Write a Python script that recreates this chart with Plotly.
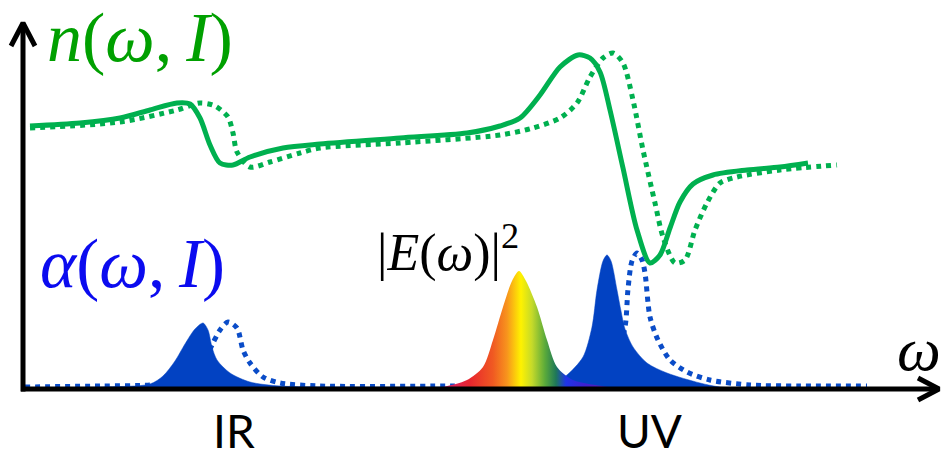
import plotly.graph_objects as go

# ---- refractive index n(omega, I): solid (low intensity) and dotted (high intensity)
n_solid_omega = [30, 80, 120, 150, 177, 190, 200, 210, 220, 233, 250, 283, 320, 400, 467, 500, 520,
                 540, 560, 578, 590, 600, 610, 623, 637, 650, 660, 670, 680, 693, 713, 747, 780, 808]
n_solid_value = [263, 266, 271, 279, 286, 285, 271, 244, 226, 224, 232, 241, 245, 251, 256, 263, 271,
                 294, 322, 334, 331, 317, 279, 221, 159, 126, 134, 161, 187, 205, 214, 219, 222, 226]

n_dot_omega = [30, 120, 177, 200, 215, 228, 233, 237, 250, 270, 300, 320, 400, 500, 533, 560, 577,
               590, 603, 613, 623, 633, 643, 655, 663, 675, 685, 695, 707, 720, 737, 780, 837]
n_dot_value = [261, 267, 279, 286, 283, 272, 256, 237, 222, 227, 236, 241, 246, 254, 261, 271, 286,
               312, 331, 336, 326, 289, 239, 186, 152, 126, 129, 159, 186, 206, 212, 219, 224]

# ---- absorption alpha(omega, I): filled (low intensity) and dotted (high intensity)
a_fill_omega = [25, 100, 150, 163, 175, 185, 195, 203, 208, 212, 217, 230, 250, 280, 350, 450, 520,
                560, 567, 583, 592, 597, 603, 607, 611, 617, 621, 625, 633, 647, 667, 700, 720, 760]
a_fill_value = [1, 2, 5, 13, 28, 45, 60, 66, 59, 42, 29, 16, 7, 3, 2, 2, 3,
                10, 14, 32, 62, 99, 128, 134, 128, 99, 78, 60, 42, 26, 16, 6, 2, 0]

a_dot_omega = [25, 100, 150, 180, 195, 205, 213, 220, 228, 237, 243, 250, 263, 280, 320, 450, 560,
               600, 615, 625, 628, 632, 637, 642, 645, 650, 658, 670, 687, 710, 750, 800, 867]
a_dot_value = [2, 3, 4, 8, 16, 30, 46, 59, 67, 61, 39, 26, 12, 6, 3, 3, 4,
               12, 30, 62, 100, 128, 136, 129, 116, 72, 49, 29, 17, 9, 4, 3, 3]

# ---- pulse spectrum |E(omega)|^2
e_omega = [430, 443, 467, 483, 493, 503, 512, 519, 526, 537, 547, 557, 573, 607, 620]
e_value = [0, 2, 9, 22, 49, 82, 108, 118, 108, 82, 49, 22, 9, 2, 0]

rainbow = [[0.000, "#D8207A"], [0.176, "#E8262E"], [0.312, "#F05A22"], [0.394, "#F7941D"],
           [0.476, "#FFF200"], [0.541, "#C5DA2A"], [0.618, "#5AAA3A"], [0.682, "#1E7858"],
           [0.741, "#1F35E8"], [0.853, "#3D20D0"], [1.000, "#6A1AA8"]]

# ---- axis arrows
yaxis_x = [23, 23]
yaxis_y = [-2.5, 366]
yhead_x = [11, 23, 35]
yhead_y = [343, 366, 343]
xaxis_x = [21, 939]
xaxis_y = [0, 0]
xhead_x = [918, 939, 918]
xhead_y = [11, 0, -11]

GREEN = "#00B04F"
BLUE = "#0242C2"
BLUE_DOT = "#0A4CC8"

fig = go.Figure()

fig.add_trace(go.Scatter(x=n_dot_omega, y=n_dot_value, mode="lines",
                         line=dict(color=GREEN, width=5, dash="dot", shape="spline", smoothing=0.8)))
fig.add_trace(go.Scatter(x=n_solid_omega, y=n_solid_value, mode="lines",
                         line=dict(color=GREEN, width=5, shape="spline", smoothing=0.8)))
fig.add_trace(go.Scatter(x=a_dot_omega, y=a_dot_value, mode="lines",
                         line=dict(color=BLUE_DOT, width=5, dash="dot", shape="spline", smoothing=0.8)))
fig.add_trace(go.Scatter(x=a_fill_omega, y=a_fill_value, mode="lines", fill="tozeroy",
                         fillcolor=BLUE,
                         line=dict(color=BLUE, width=0.5, shape="spline", smoothing=0.8)))
fig.add_trace(go.Scatter(x=e_omega, y=e_value, mode="lines", fill="tozeroy",
                         fillgradient=dict(type="horizontal", colorscale=rainbow, start=440, stop=610),
                         line=dict(width=0, shape="spline", smoothing=0.8)))

for xs, ys in [(yaxis_x, yaxis_y), (yhead_x, yhead_y), (xaxis_x, xaxis_y), (xhead_x, xhead_y)]:
    fig.add_trace(go.Scatter(x=xs, y=ys, mode="lines", line=dict(color="black", width=5)))

serif = "Liberation Serif"
fig.add_annotation(x=45, y=352, text="<i>n</i>(<i>ω</i>,\u2009<i>I</i>)", showarrow=False,
                   xanchor="left", yanchor="middle",
                   font=dict(family=serif, size=70, color="#00A000"))
fig.add_annotation(x=38, y=125, text="<i>α</i>(<i>ω</i>,\u2009<i>I</i>)", showarrow=False,
                   xanchor="left", yanchor="middle",
                   font=dict(family=serif, size=69, color="#0B0BEF"))
fig.add_annotation(x=375, y=140, text="|<i>E</i>(<i>ω</i>)|<sup>2</sup>", showarrow=False,
                   xanchor="left", yanchor="middle",
                   font=dict(family=serif, size=52, color="black"))
fig.add_annotation(x=943, y=40, text="<i>ω</i>", showarrow=False,
                   xanchor="right", yanchor="middle",
                   font=dict(family=serif, size=62, color="black"))
fig.add_annotation(x=233.5, y=-41, text="IR", showarrow=False,
                   xanchor="center", yanchor="middle",
                   font=dict(family="Lato", size=46, color="black"))
fig.add_annotation(x=649, y=-41, text="UV", showarrow=False,
                   xanchor="center", yanchor="middle",
                   font=dict(family="Lato", size=46, color="black"))

fig.update_layout(width=943, height=451, margin=dict(l=0, r=0, t=0, b=0),
                  plot_bgcolor="white", paper_bgcolor="white", showlegend=False,
                  hovermode=False,
                  xaxis=dict(range=[0, 943], visible=False, fixedrange=True),
                  yaxis=dict(range=[-62, 389], visible=False, fixedrange=True))

fig.write_html("out.html", config={"displayModeBar": False},
               post_script="document.body.style.margin='0px';document.body.style.overflow='hidden';")
